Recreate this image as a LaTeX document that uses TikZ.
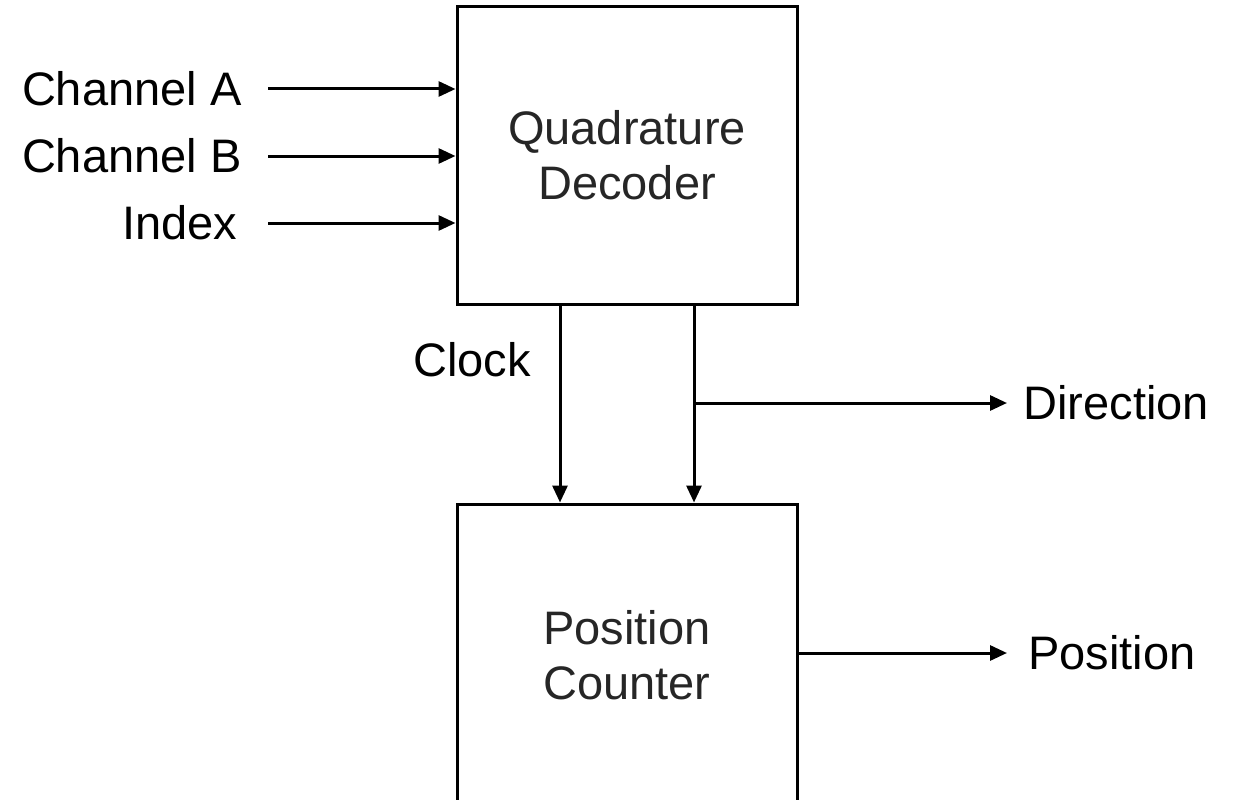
\documentclass[tikz,border=0pt]{standalone}
\usepackage{fontspec}
\setmainfont{Liberation Sans}
\usetikzlibrary{arrows.meta}
\begin{document}
\begin{tikzpicture}[x=1pt,y=-1pt,
  line width=3pt,
  arr/.style={-{Triangle[length=17pt,width=15pt]}},
  block/.style={draw, minimum width=340pt, inner sep=0pt, align=center,
    text=black!85, font=\fontsize{47}{55}\selectfont},
  lbl/.style={inner ysep=0pt, font=\fontsize{47}{55}\selectfont}]
\clip (0,0) rectangle (1235,800);
\useasboundingbox (0,0) rectangle (1235,800);
\fill[white] (0,0) rectangle (1235,800);
% blocks
\node[block, minimum height=297pt] (qd) at (627,155.5) {Quadrature\\Decoder};
\node[block, minimum height=302pt] (pc) at (627,655) {Position\\Counter};
% inputs
\node[lbl, anchor=east, inner xsep=25pt] (cha) at (268,89) {Channel A};
\node[lbl, anchor=east, inner xsep=25pt] (chb) at (268,156) {Channel B};
\node[lbl, anchor=east, inner xsep=29pt] (idx) at (268,223) {Index};
\draw[arr] (cha.east) -- (cha.east -| qd.west);
\draw[arr] (chb.east) -- (chb.east -| qd.west);
\draw[arr] (idx.east) -- (idx.east -| qd.west);
% clock and direction
\coordinate (clk) at (560,0);
\coordinate (dirx) at (694,0);
\coordinate (jn) at (694,403);
\node[lbl] (clock) at (472,360) {Clock};
\draw[arr] (qd.south -| clk) -- (pc.north -| clk);
\draw[arr] (qd.south -| dirx) -- (pc.north -| dirx);
\node[lbl, anchor=west, inner xsep=15pt] (dir) at (1007,403) {Direction};
\draw[arr] (jn) -- (dir.west);
% position output
\node[lbl, anchor=west, inner xsep=20pt] (pos) at (1007,653) {Position};
\draw[arr] (pc.east |- pos.west) -- (pos.west);
\end{tikzpicture}
\end{document}
